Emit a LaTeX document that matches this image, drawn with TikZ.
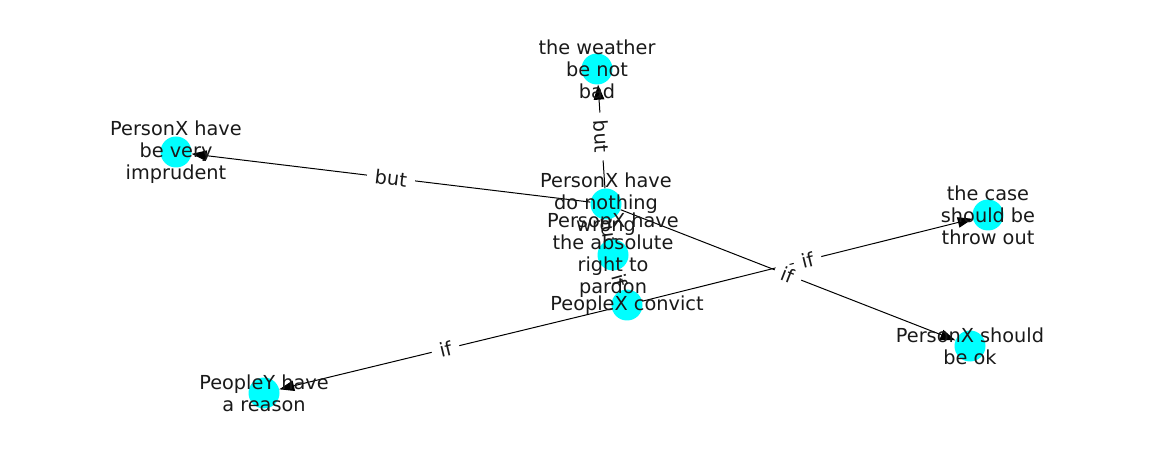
\documentclass[tikz,border=0pt]{standalone}
\usepackage{fontspec}
\setmainfont{DejaVu Sans}
\usetikzlibrary{arrows.meta}
\definecolor{nodecyan}{RGB}{0,255,255}
\begin{document}
\begin{tikzpicture}[x=1pt,y=-1pt,
  every node/.style={font=\fontsize{19.3}{22}\selectfont, text=black!90},
  dot/.style={circle,minimum size=31pt,inner sep=0pt,draw=none},
  lbl/.style={align=center,inner sep=0pt},
  elbl/.style={fill=white,inner xsep=8pt,inner ysep=3pt,rounded corners=3pt,sloped},
  edge/.style={-{Triangle[length=15pt,width=10.5pt]},line width=1pt,black}]
\useasboundingbox (0,0) rectangle (1162,462);
% node anchors (circles)
\node[dot] (wea) at (597,69) {};
\node[dot] (imp) at (176,152) {};
\node[dot] (dno) at (606,204) {};
\node[dot] (abs) at (613,255) {};
\node[dot] (con) at (627,305) {};
\node[dot] (cas) at (988,215) {};
\node[dot] (ok)  at (970,346) {};
\node[dot] (pey) at (264,393) {};
% edges
\draw[edge] (dno) -- (imp);
\draw[edge] (dno) -- (wea);
\draw[edge] (dno) -- (abs);
\draw[edge] (abs) -- (con);
\draw[edge] (con) -- (pey);
\draw[edge] (dno) -- (ok);
\draw[edge] (con) -- (cas);
% edge labels
\path (dno) -- node[elbl] (l1) {but} (imp);
\path (dno) -- node[elbl] (l2) {but} (wea);
\path (dno) -- node[elbl] (l3) {but} (abs);
\path (abs) -- node[elbl] (l4) {if} (con);
\path (con) -- node[elbl] (l5) {if} (pey);
\path (dno) -- node[elbl] (l6) {if} (ok);
\path (con) -- node[elbl] (l7) {if} (cas);
% node circles
\foreach \n in {wea,imp,dno,abs,con,cas,ok,pey} \fill[nodecyan] (\n) circle (15.5);
% node texts
\node[lbl] (twea) at (wea) {the weather\\be not\\bad};
\node[lbl] (timp) at (imp) {PersonX have\\be very\\imprudent};
\node[lbl] (tdno) at (dno) {PersonX have\\do nothing\\wrong};
\node[lbl] (tabs) at (abs) {PersonX have\\the absolute\\right to\\pardon};
\node[lbl] (tcon) at (con) {PeopleX convict};
\node[lbl] (tcas) at (cas) {the case\\should be\\throw out};
\node[lbl] (tok)  at (ok)  {PersonX should\\be ok};
\node[lbl] (tpey) at (pey) {PeopleY have\\a reason};
\end{tikzpicture}
\end{document}
